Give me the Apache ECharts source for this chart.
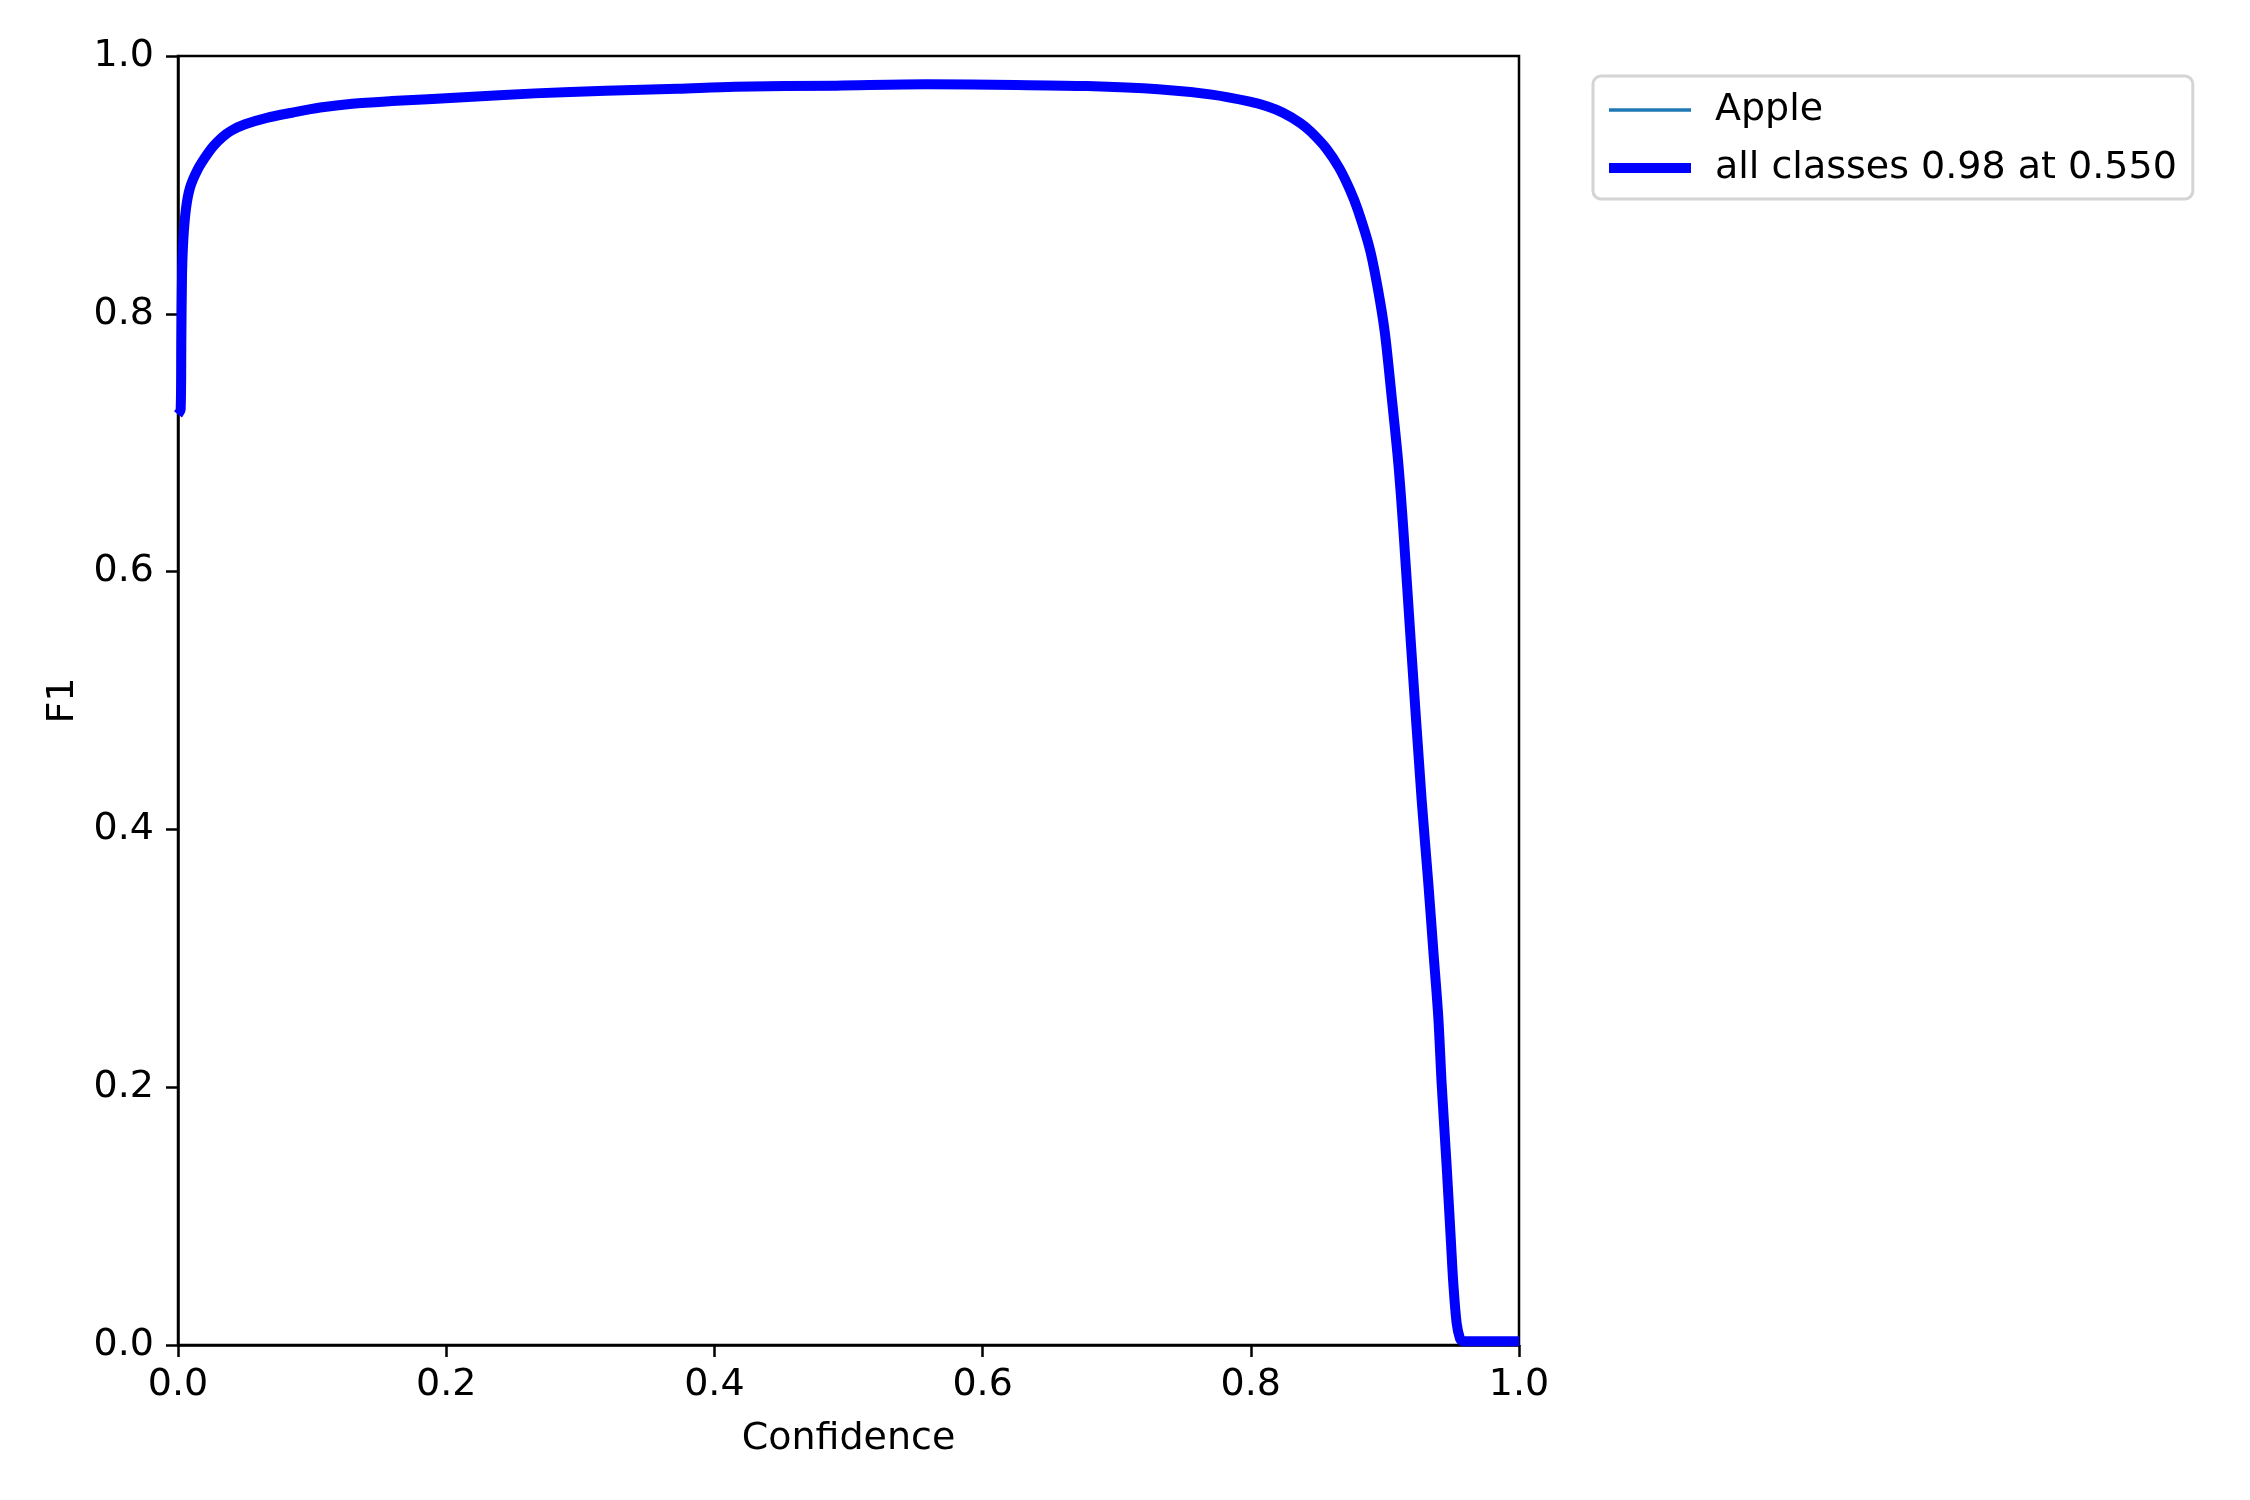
<!DOCTYPE html>
<html>
<head>
<meta charset="utf-8">
<script src="https://cdn.jsdelivr.net/npm/echarts@6/dist/echarts.min.js"></script>
<style>
html,body{margin:0;padding:0;background:#fff;}
#chart{width:2250px;height:1500px;}
</style>
</head>
<body>
<div id="chart"></div>
<script>
// Confidence values (x) and F1 values
const confidence = [0.000,0.002,0.0025,0.003,0.004,0.006,0.009,0.0142,0.020,0.0263,0.033,0.0396,0.050,0.0662,0.085,0.106,0.130,0.1595,0.213,0.266,0.319,0.3726,0.415,0.491,0.558,0.6245,0.678,0.731,0.771,0.7993,0.812,0.824,0.837,0.845,0.8565,0.866,0.874,0.880,0.8888,0.895,0.900,0.905,0.910,0.9136,0.9194,0.9274,0.9324,0.9361,0.9398,0.9423,0.9461,0.9493,0.951,0.9535,0.956,0.958,1.000];
const f1Values  = [0.722,0.726,0.780,0.830,0.858,0.882,0.898,0.911,0.921,0.930,0.937,0.942,0.947,0.952,0.956,0.960,0.963,0.965,0.968,0.971,0.973,0.9746,0.9762,0.977,0.978,0.9775,0.9767,0.9742,0.970,0.9646,0.961,0.956,0.948,0.941,0.928,0.913,0.896,0.880,0.850,0.818,0.785,0.736,0.684,0.635,0.544,0.423,0.358,0.306,0.2547,0.203,0.138,0.079,0.048,0.017,0.005,0.003,0.003];
const classNames = ['Apple'];
const allLabel = 'all classes 0.98 at 0.550';
const tickValues = [0, 0.2, 0.4, 0.6, 0.8, 1.0];

const pts = confidence.map((x, i) => [x, f1Values[i]]);
const FONT = 'DejaVu Sans';

const chart = echarts.init(document.getElementById('chart'), null, {renderer: 'canvas'});
chart.setOption({
  backgroundColor: '#ffffff',
  animation: false,
  grid: {left: 178, top: 56, width: 1341, height: 1289, show: true, borderColor: '#000', borderWidth: 2.5, backgroundColor: 'transparent'},
  legend: {
    orient: 'vertical', left: 1593, top: 76,
    itemWidth: 82, itemHeight: 40, itemGap: 20,
    padding: [15, 16, 12, 11],
    backgroundColor: 'rgba(255,255,255,0.8)', borderColor: '#d4d4d4', borderWidth: 3, borderRadius: 8,
    textStyle: {fontSize: 38, color: '#000', fontFamily: FONT, padding: [0, 0, 0, 19]},
    itemStyle: {opacity: 0, color: 'transparent', borderWidth: 0},
    data: [
      {name: classNames[0], lineStyle: {width: 3.5, color: '#1f77b4'}, itemStyle: {opacity: 0, color: 'transparent', borderWidth: 0}},
      {name: allLabel, lineStyle: {width: 10, color: '#0000ff'}, itemStyle: {opacity: 0, color: 'transparent', borderWidth: 0}}
    ]
  },
  xAxis: {
    type: 'value', min: 0, max: 1, interval: 0.2,
    name: 'Confidence', nameLocation: 'middle', nameGap: 75,
    nameTextStyle: {fontSize: 38, color: '#000', fontFamily: FONT},
    axisLine: {show: true, lineStyle: {color: '#000', width: 2.5}},
    axisTick: {show: true, inside: false, length: 12, lineStyle: {color: '#000', width: 2.5}},
    axisLabel: {fontSize: 38, color: '#000', fontFamily: FONT, margin: 21, formatter: v => v.toFixed(1)},
    splitLine: {show: false}
  },
  yAxis: {
    type: 'value', min: 0, max: 1, interval: 0.2,
    name: 'F1', nameLocation: 'middle', nameGap: 96,
    nameTextStyle: {fontSize: 38, color: '#000', fontFamily: FONT},
    axisLine: {show: true, lineStyle: {color: '#000', width: 2.5}},
    axisTick: {show: true, inside: false, length: 12, lineStyle: {color: '#000', width: 2.5}},
    axisLabel: {fontSize: 38, color: '#000', fontFamily: FONT, margin: 24, formatter: v => v.toFixed(1)},
    splitLine: {show: false}
  },
  series: [
    {name: classNames[0], type: 'line', data: pts, showSymbol: false, symbol: 'none', smooth: 0.3,
     lineStyle: {width: 3.5, color: '#1f77b4'}, itemStyle: {color: '#1f77b4'}, clip: true},
    {name: allLabel, type: 'line', data: pts, showSymbol: false, symbol: 'none', smooth: 0.3,
     lineStyle: {width: 10, color: '#0000ff', join: 'round'}, itemStyle: {color: '#0000ff'}, clip: true}
  ]
});
</script>
</body>
</html>
